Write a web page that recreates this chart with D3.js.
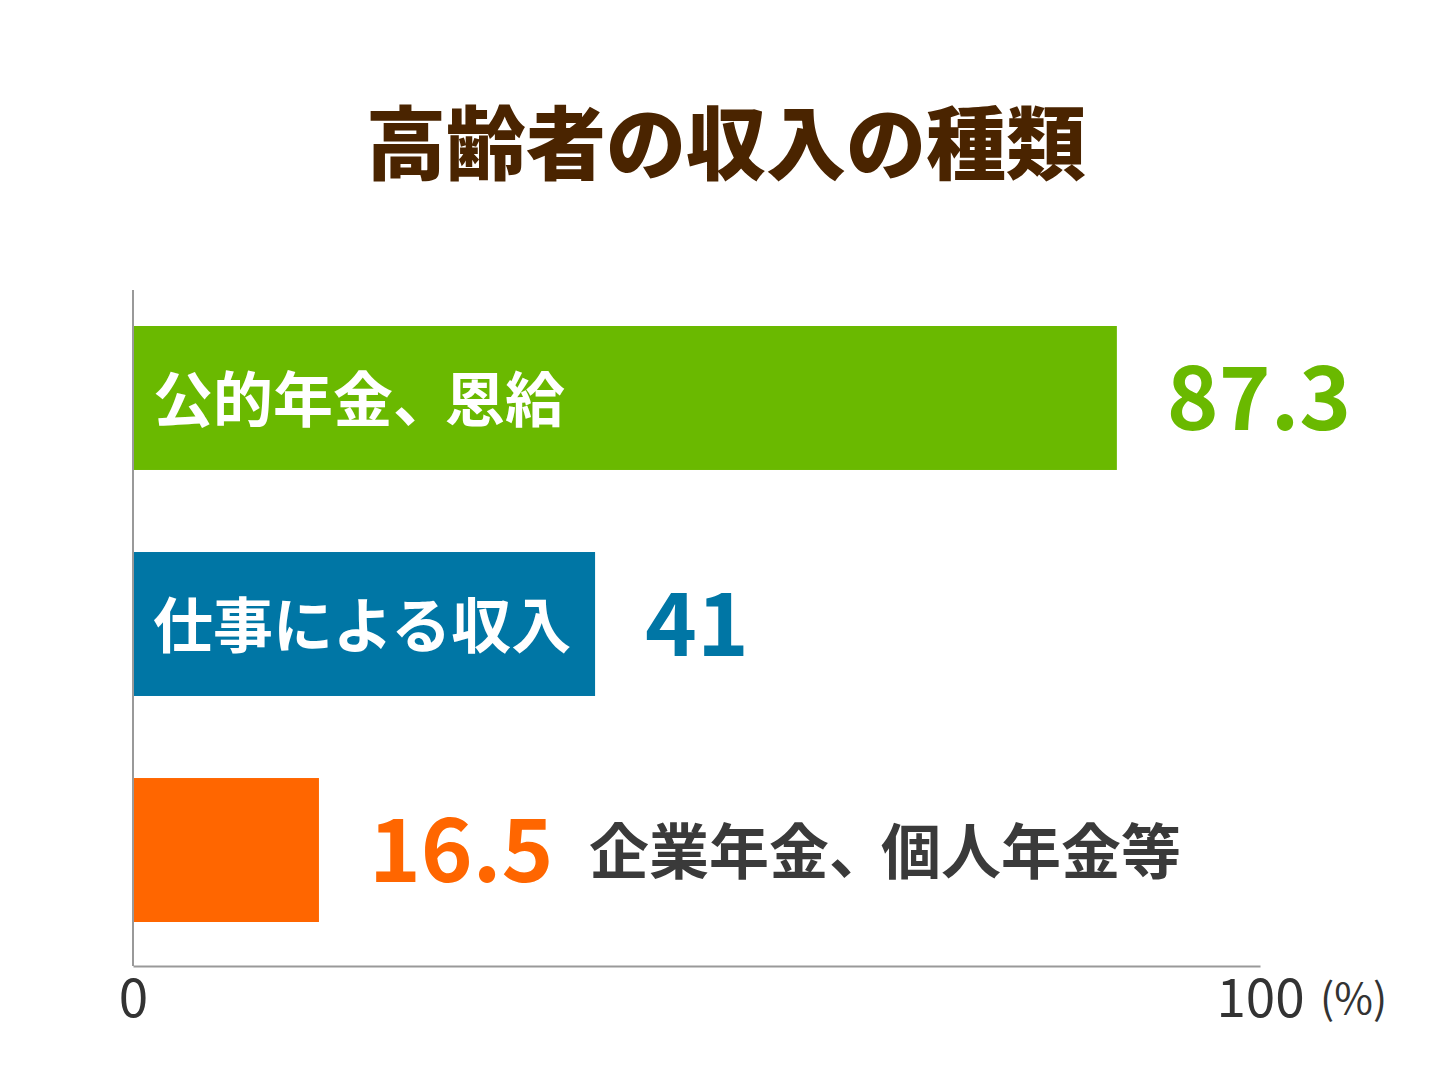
<!DOCTYPE html>
<html>
<head>
<meta charset="utf-8">
<script src="https://cdn.jsdelivr.net/npm/d3@7"></script>
<style>
  body { margin: 0; background: #fff; }
  text { font-family: "Noto Sans CJK JP", "Noto Sans", sans-serif; }
</style>
</head>
<body>
<svg id="chart"></svg>
<script>
const categories = ["公的年金、恩給", "仕事による収入", "企業年金、個人年金等"];
const values = [87.3, 41, 16.5];
const barColors = ["#6ab900", "#0076a5", "#ff6600"];
const labelInside = [true, true, false];
const tickValues = [0, 100];

const width = 1452;
const height = 1089;
const margin = {left: 133, right: 192, top: 290, bottom: 123};

const svg = d3.select("#chart")
  .attr("width", width)
  .attr("height", height);

// title
svg.append("text")
  .attr("x", 726)
  .attr("y", 173)
  .attr("text-anchor", "middle")
  .style("font-size", "80px")
  .style("font-weight", 900)
  .attr("fill", "#4a2400")
  .text("高齢者の収入の種類");

const x = d3.scaleLinear()
  .domain([0, 100])
  .range([margin.left, width - margin.right]);

const y = d3.scaleBand()
  .domain(categories)
  .range([margin.top, height - margin.bottom])
  .paddingInner(0.363)
  .paddingOuter(0.177)
  .align(0.45);

const rows = categories.map((c, i) => ({
  name: c, value: values[i], color: barColors[i], inside: labelInside[i]
}));

const bar = svg.selectAll("g.bar")
  .data(rows)
  .enter()
  .append("g")
  .attr("class", "bar");

bar.append("rect")
  .attr("x", x(0))
  .attr("y", d => y(d.name))
  .attr("width", d => x(d.value) - x(0))
  .attr("height", y.bandwidth())
  .attr("fill", d => d.color);

// value labels
bar.append("text")
  .attr("x", d => x(d.value) + 50)
  .attr("y", d => y(d.name) + y.bandwidth() / 2 + 32)
  .style("font-size", "88px")
  .style("font-weight", 700)
  .attr("fill", d => d.color)
  .text(d => d.value);

// category labels (the ideographic comma is set a bit tighter)
const catLabel = bar.append("text")
  .attr("x", d => d.inside ? x(0) + 20 : x(d.value) + 270)
  .attr("y", d => y(d.name) + y.bandwidth() / 2 + 24)
  .style("font-size", "60px")
  .style("font-weight", 700)
  .attr("fill", d => d.inside ? "#fff" : "#3a3a3a");

catLabel.selectAll("tspan")
  .data(d => {
    const parts = d.name.split("、");
    return parts.map((p, i) => ({text: i < parts.length - 1 ? p + "、" : p, shift: i > 0 ? -8 : 0}));
  })
  .enter()
  .append("tspan")
  .attr("dx", p => p.shift)
  .text(p => p.text);

// axes
svg.append("line")
  .attr("x1", x(0)).attr("x2", x(0))
  .attr("y1", margin.top).attr("y2", height - margin.bottom)
  .attr("stroke", "#999").attr("stroke-width", 2);

const xAxis = svg.append("g")
  .attr("transform", `translate(0,${height - margin.bottom})`)
  .call(d3.axisBottom(x).tickValues(tickValues).tickSize(0));

xAxis.select(".domain").attr("stroke", "#999").attr("stroke-width", 2);
xAxis.selectAll(".tick text")
  .attr("y", 51)
  .attr("dy", null)
  .style("font-family", "'Noto Sans CJK JP', sans-serif")
  .style("font-size", "53px")
  .attr("fill", "#333");

svg.append("text")
  .attr("x", x(100) + 60)
  .attr("y", height - margin.bottom + 48)
  .style("font-size", "42px")
  .attr("fill", "#333")
  .text("(%)");
</script>
</body>
</html>
